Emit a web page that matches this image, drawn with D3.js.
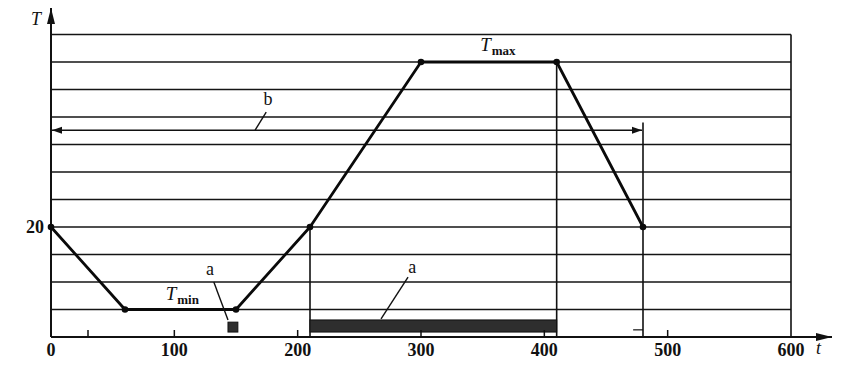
<!DOCTYPE html>
<html>
<head>
<meta charset="utf-8">
<script src="https://cdn.jsdelivr.net/npm/d3@7"></script>
<style>
  body { margin: 0; background: #fff; }
  svg { display: block; }
  text { font-family: "Liberation Serif", "Times New Roman", serif; fill: #111; }
</style>
</head>
<body>
<div id="vis"></div>
<script>
// temperature profile: time t and temperature T
const profileTime = [0, 60, 150, 210, 300, 410, 480];
const profileTemp = [20, 5, 5, 20, 50, 50, 20];
// horizontal grid levels (T)
const gridTemps = [5, 10, 15, 20, 25, 30, 35, 40, 45, 50, 55];
// axis ticks
const xTickLabels = [0, 100, 200, 300, 400, 500, 600];
const xTickMarks = [0, 30, 100, 200, 300, 400, 500];
const yTickLabels = [20];
// vertical guide lines: time, top temperature
const guideTime = [210, 410, 480, 600];
const guideTop = [20, 50, 39, 55];
// shaded intervals "a": start time, end time
const barStart = [143.5, 210];
const barEnd = [151.5, 410];
const barLow = [0.9, 0.9];
const barHigh = [2.7, 3.1];
// double arrow "b": from t0 to t1 at level T
const arrowB = [0, 480, 37.6];

const W = 853, H = 372;
const x = d3.scaleLinear().domain([0, 600]).range([51, 791]);
const y = d3.scaleLinear().domain([0, 55]).range([337, 34.5]);

const svg = d3.select("#vis").append("svg")
    .attr("width", W).attr("height", H);

const defs = svg.append("defs");
defs.append("marker")
    .attr("id", "head")
    .attr("viewBox", "0 0 10 10")
    .attr("refX", 10).attr("refY", 5)
    .attr("markerWidth", 10).attr("markerHeight", 10)
    .attr("markerUnits", "userSpaceOnUse")
    .attr("orient", "auto-start-reverse")
    .append("path").attr("d", "M0,1.5 L10,5 L0,8.5 Z").attr("fill", "#111");
defs.append("marker")
    .attr("id", "axhead")
    .attr("viewBox", "0 0 16 10")
    .attr("refX", 16).attr("refY", 5)
    .attr("markerWidth", 16).attr("markerHeight", 10)
    .attr("markerUnits", "userSpaceOnUse")
    .attr("orient", "auto")
    .append("path").attr("d", "M0,1 L16,5 L0,9 Z").attr("fill", "#111");

// grid lines
svg.append("g").selectAll("line").data(gridTemps).join("line")
    .attr("x1", x(0)).attr("x2", x(600))
    .attr("y1", d => y(d)).attr("y2", d => y(d))
    .attr("stroke", "#141414").attr("stroke-width", 1.7);

// vertical guides
svg.append("g").selectAll("line").data(guideTime).join("line")
    .attr("x1", d => x(d)).attr("x2", d => x(d))
    .attr("y1", (d, i) => y(guideTop[i])).attr("y2", y(0))
    .attr("stroke", "#111").attr("stroke-width", 1.6);

// shaded bars "a"
svg.append("g").selectAll("rect").data(barStart).join("rect")
    .attr("x", d => x(d))
    .attr("width", (d, i) => x(barEnd[i]) - x(d))
    .attr("y", (d, i) => y(barHigh[i]))
    .attr("height", (d, i) => y(barLow[i]) - y(barHigh[i]))
    .attr("fill", "#2e2e2e").attr("stroke", "#111").attr("stroke-width", 1);

// axes
svg.append("line")
    .attr("x1", x(0)).attr("x2", 832)
    .attr("y1", y(0)).attr("y2", y(0))
    .attr("stroke", "#111").attr("stroke-width", 2)
    .attr("marker-end", "url(#axhead)");
svg.append("line")
    .attr("x1", x(0)).attr("x2", x(0))
    .attr("y1", y(0)).attr("y2", 8)
    .attr("stroke", "#111").attr("stroke-width", 2)
    .attr("marker-end", "url(#axhead)");

// tick marks
svg.append("g").selectAll("line").data(xTickMarks).join("line")
    .attr("x1", d => x(d)).attr("x2", d => x(d))
    .attr("y1", y(0)).attr("y2", y(0) - 7)
    .attr("stroke", "#111").attr("stroke-width", 1.5);
svg.append("line")
    .attr("x1", x(472)).attr("x2", x(480))
    .attr("y1", y(1.3)).attr("y2", y(1.3))
    .attr("stroke", "#111").attr("stroke-width", 1.2);

// tick labels
svg.append("g").selectAll("text").data(xTickLabels).join("text")
    .attr("x", d => x(d)).attr("y", 356)
    .attr("text-anchor", "middle")
    .style("font-size", "18px").style("font-weight", "bold")
    .text(d => d);
svg.append("g").selectAll("text").data(yTickLabels).join("text")
    .attr("x", x(0) - 7).attr("y", d => y(d) + 6)
    .attr("text-anchor", "end")
    .style("font-size", "18px").style("font-weight", "bold")
    .text(d => d);

// axis titles
svg.append("text").attr("x", 31).attr("y", 25)
    .style("font-size", "18px").style("font-style", "italic").text("T");
svg.append("text").attr("x", 816).attr("y", 354)
    .style("font-size", "18px").style("font-style", "italic").text("t");

// double arrow b
svg.append("line")
    .attr("x1", x(arrowB[0]) + 1).attr("x2", x(arrowB[1]) - 1)
    .attr("y1", y(arrowB[2])).attr("y2", y(arrowB[2]))
    .attr("stroke", "#111").attr("stroke-width", 1.6)
    .attr("marker-start", "url(#head)").attr("marker-end", "url(#head)");

// profile
const pts = profileTime.map((t, i) => [t, profileTemp[i]]);
svg.append("path")
    .datum(pts)
    .attr("d", d3.line().x(d => x(d[0])).y(d => y(d[1])))
    .attr("fill", "none").attr("stroke", "#0a0a0a").attr("stroke-width", 2.8)
    .attr("stroke-linejoin", "round");
svg.append("g").selectAll("circle").data(pts).join("circle")
    .attr("cx", d => x(d[0])).attr("cy", d => y(d[1])).attr("r", 3.3)
    .attr("fill", "#0a0a0a");

// leaders and labels
const leaders = [
    [[132, 10], [143.5, 3.1]],
    [[289.5, 10.9], [267.6, 3.3]],
    [[174.5, 40.9], [165.5, 37.6]]
];
svg.append("g").selectAll("line").data(leaders).join("line")
    .attr("x1", d => x(d[0][0])).attr("y1", d => y(d[0][1]))
    .attr("x2", d => x(d[1][0])).attr("y2", d => y(d[1][1]))
    .attr("stroke", "#111").attr("stroke-width", 1.4);

const notes = [
    { t: 129, T: 11.3, s: "a" },
    { t: 293, T: 11.7, s: "a" },
    { t: 176, T: 42.1, s: "b" }
];
svg.append("g").selectAll("text").data(notes).join("text")
    .attr("x", d => x(d.t)).attr("y", d => y(d.T))
    .attr("text-anchor", "middle")
    .style("font-size", "18px")
    .text(d => d.s);

function tLabel(t, T, sub) {
    const g = svg.append("text").attr("x", x(t)).attr("y", y(T));
    g.append("tspan").style("font-size", "19px").style("font-style", "italic").text("T");
    g.append("tspan").attr("dy", 4).attr("dx", 1).style("font-size", "13px").style("font-weight", "bold").text(sub);
}
tLabel(93, 6.7, "min");
tLabel(348, 52, "max");
</script>
</body>
</html>
